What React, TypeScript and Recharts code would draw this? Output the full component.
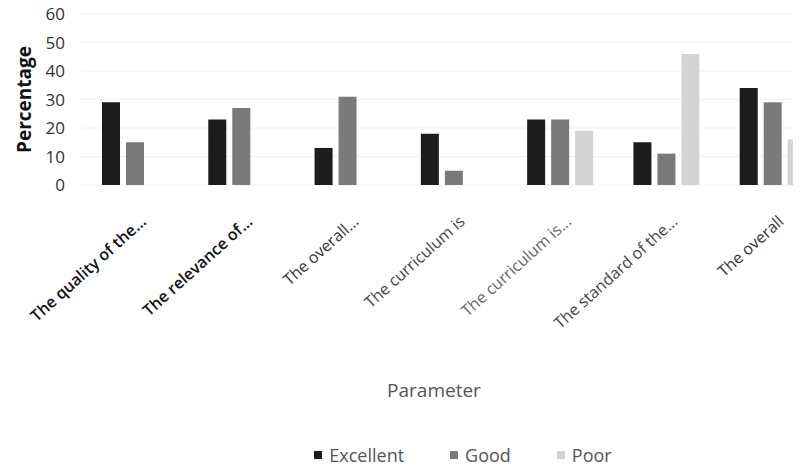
import { BarChart, Bar, XAxis, YAxis, CartesianGrid, Legend, Label } from "recharts";

const categories = [
  "The quality of the...",
  "The relevance of...",
  "The overall...",
  "The curriculum is",
  "The curriculum is...",
  "The standard of the...",
  "The overall",
];
const excellent = [29, 23, 13, 18, 23, 15, 34];
const good = [15, 27, 31, 5, 23, 11, 29];
const poor = [0, 0, 0, 0, 19, 46, 16];
const yTicks = [0, 10, 20, 30, 40, 50, 60];

const data = categories.map((name, i) => ({
  name,
  Excellent: excellent[i],
  Good: good[i],
  Poor: poor[i],
}));

const FONT = "'Open Sans', sans-serif";
const tickColors = ["#111", "#111", "#333", "#444", "#666", "#444", "#333"];

function RotatedTick(props: any) {
  const { x, y, payload, index } = props;
  const ax = x + 12;
  const ay = y + 30;
  return (
    <text
      x={ax}
      y={ay}
      transform={`rotate(-42, ${ax}, ${ay})`}
      textAnchor="end"
      fontFamily={FONT}
      fontSize={16}
      fontWeight={index < 2 ? 600 : 400}
      fill={tickColors[index] || "#333"}
    >
      {payload.value}
    </text>
  );
}

const legendItems = [
  { label: "Excellent", color: "#1c1c1c" },
  { label: "Good", color: "#7a7a7a" },
  { label: "Poor", color: "#d4d4d4" },
];

function LegendBox() {
  return (
    <div style={{ display: "flex", justifyContent: "center", gap: 46, fontFamily: FONT, fontSize: 18, color: "#555", paddingLeft: 100, marginTop: 2 }}>
      {legendItems.map((it) => (
        <span key={it.label} style={{ display: "flex", alignItems: "center" }}>
          <span style={{ width: 8, height: 8, background: it.color, marginRight: 7, display: "inline-block" }} />
          {it.label}
        </span>
      ))}
    </div>
  );
}

export default function App() {
  return (
    <div style={{ margin: -8, width: 801, height: 471, overflow: "hidden", background: "#fff" }}>
      <BarChart
        width={830}
        height={471}
        data={data}
        margin={{ top: 14, right: 4, left: 0, bottom: 0 }}
        barSize={18}
        barGap={6}
      >
        <CartesianGrid vertical={false} stroke="#f2f2f2" />
        <XAxis
          dataKey="name"
          axisLine={false}
          tickLine={false}
          interval={0}
          height={256}
          tick={<RotatedTick />}
        >
          <Label value="Parameter" position="insideBottom" offset={44} fontFamily={FONT} fontSize={19} fill="#555" dx={-20} />
        </XAxis>
        <YAxis
          domain={[0, 60]}
          ticks={yTicks}
          axisLine={false}
          tickLine={false}
          tickSize={0}
          tickMargin={17}
          width={82}
          tick={{ fontFamily: FONT, fontSize: 17, fill: "#333" }}
        >
          <Label
            value="Percentage"
            angle={-90}
            position="insideLeft"
            offset={24}
            fontFamily={FONT}
            fontSize={19}
            fontWeight={700}
            fill="#111"
            style={{ textAnchor: "middle" }}
          />
        </YAxis>
        <Legend verticalAlign="bottom" height={30} content={<LegendBox />} />
        <Bar dataKey="Excellent" fill="#1c1c1c" isAnimationActive={false} />
        <Bar dataKey="Good" fill="#7a7a7a" isAnimationActive={false} />
        <Bar dataKey="Poor" fill="#d4d4d4" isAnimationActive={false} />
      </BarChart>
    </div>
  );
}
